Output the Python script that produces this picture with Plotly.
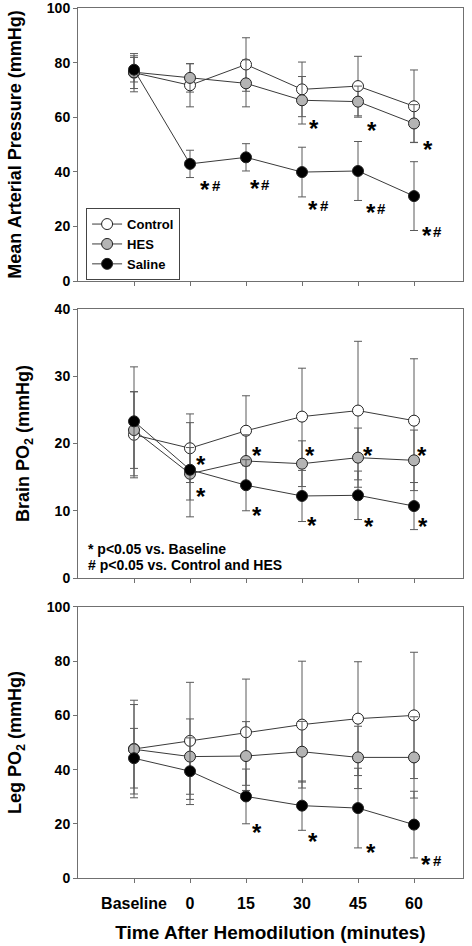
import plotly.graph_objects as go

time_labels = ["Baseline", "0", "15", "30", "45", "60"]
xpos = [0, 1, 2, 3, 4, 5]

# Mean arterial pressure (mmHg): mean and SD
map_control = [76.3, 71.7, 79.3, 70.2, 71.4, 64.0]
map_control_sd = [7.0, 7.9, 9.8, 10.0, 10.9, 13.3]
map_hes = [76.5, 74.4, 72.4, 66.2, 65.7, 57.7]
map_hes_sd = [6.0, 5.2, 8.6, 8.7, 5.7, 6.9]
map_saline = [77.4, 42.9, 45.3, 39.9, 40.3, 31.1]
map_saline_sd = [4.5, 5.0, 5.0, 9.1, 10.8, 12.6]

# Brain PO2 (mmHg)
brain_control = [21.3, 19.3, 21.9, 24.0, 24.9, 23.4]
brain_control_sd = [6.4, 5.1, 5.2, 7.2, 10.3, 9.2]
brain_hes = [22.0, 15.5, 17.4, 17.0, 17.9, 17.5]
brain_hes_sd = [5.7, 3.9, 3.9, 3.4, 4.4, 4.5]
brain_saline = [23.3, 16.1, 13.8, 12.2, 12.3, 10.7]
brain_saline_sd = [8.1, 7.0, 3.8, 3.8, 3.6, 3.5]

# Leg PO2 (mmHg)
leg_control = [47.6, 50.6, 53.8, 56.6, 58.8, 60.0]
leg_control_sd = [18.0, 21.6, 19.6, 23.4, 21.0, 23.3]
leg_hes = [47.5, 44.8, 45.0, 46.6, 44.5, 44.5]
leg_hes_sd = [16.5, 13.9, 12.7, 11.2, 11.5, 15.0]
leg_saline = [44.2, 39.4, 30.1, 26.7, 25.8, 19.7]
leg_saline_sd = [11.0, 12.3, 10.1, 9.1, 14.7, 12.3]

# significance marks: (x position, y value, text)
map_marks = [(1.27, 35.2, "*#"), (2.16, 35.8, "*#"), (3.2, 28.0, "*#"), (4.23, 27.0, "*#"),
             (5.23, 18.6, "*#"), (3.21, 57.7, "*"), (4.25, 56.9, "*"), (5.25, 49.9, "*")]
brain_marks = [(1.2, 17.6, "*"), (1.2, 12.9, "*"), (2.2, 19.0, "*"), (2.2, 10.0, "*"),
               (3.15, 19.0, "*"), (3.18, 8.6, "*"), (4.18, 19.0, "*"), (4.19, 8.4, "*"),
               (5.14, 19.0, "*"), (5.16, 8.4, "*")]
leg_marks = [(2.2, 18.5, "*"), (3.2, 15.4, "*"), (4.23, 11.4, "*"), (5.22, 6.8, "*#")]

FONT = "Liberation Sans, Arial, sans-serif"
LINE = "#3a3a3a"
ERR = "#5a5a5a"
AXC = "#707070"

fill = {"Control": "white", "HES": "#b4b4b4", "Saline": "black"}

fig = go.Figure()

panels = [
    ("x", "y", [(map_control, map_control_sd), (map_hes, map_hes_sd), (map_saline, map_saline_sd)], True),
    ("x2", "y2", [(brain_control, brain_control_sd), (brain_hes, brain_hes_sd), (brain_saline, brain_saline_sd)], False),
    ("x3", "y3", [(leg_control, leg_control_sd), (leg_hes, leg_hes_sd), (leg_saline, leg_saline_sd)], False),
]
names = ["Control", "HES", "Saline"]
for xax, yax, series, show in panels:
    for name, (vals, sds) in zip(names, series):
        fig.add_trace(go.Scatter(
            x=xpos, y=vals, name=name, mode="lines+markers",
            xaxis=xax, yaxis=yax, showlegend=show,
            line=dict(color=LINE, width=1),
            marker=dict(size=11, color=fill[name], line=dict(color="#222222", width=1)),
            error_y=dict(type="data", array=sds, visible=True, color=ERR, thickness=1, width=4),
        ))


def add_marks(marks, xref, yref):
    for x, y, t in marks:
        fig.add_annotation(x=x, y=y, xref=xref, yref=yref, text="*", showarrow=False,
                           xanchor="center", yanchor="middle", yshift=-5,
                           font=dict(family=FONT, size=24, color="black", weight="bold"))
        if "#" in t:
            fig.add_annotation(x=x, y=y, xref=xref, yref=yref, text="#", showarrow=False,
                               xanchor="center", yanchor="middle", xshift=11, yshift=-1,
                               font=dict(family=FONT, size=15, color="black", weight="bold"))


add_marks(map_marks, "x", "y")
add_marks(brain_marks, "x2", "y2")
add_marks(leg_marks, "x3", "y3")

nfont = dict(family=FONT, size=14, color="black", weight="bold")
fig.add_annotation(x=0.021, y=4.3, xref="x2 domain", yref="y2", text="* p<0.05 vs. Baseline",
                   showarrow=False, xanchor="left", yanchor="middle", font=nfont)
fig.add_annotation(x=0.021, y=1.9, xref="x2 domain", yref="y2", text="# p<0.05 vs. Control and HES",
                   showarrow=False, xanchor="left", yanchor="middle", font=nfont)

xcommon = dict(range=[-1, 5.875], tickvals=xpos, ticktext=time_labels, ticks="outside", ticklen=4,
               tickcolor=AXC, showline=True, linecolor=AXC, linewidth=1, mirror=True,
               showgrid=False, zeroline=False, automargin=False, ticklabelstandoff=7,
               tickfont=dict(family=FONT, size=16, color="black", weight="bold"))
ycommon = dict(ticks="outside", ticklen=4, tickcolor=AXC, showline=True, linecolor=AXC, linewidth=1,
               mirror=True, showgrid=False, zeroline=False, automargin=False,
               ticklabeloverflow="allow",
               tickfont=dict(family=FONT, size=14, color="black", weight="bold"))
ytfont = dict(family=FONT, size=18, color="black", weight="bold")
xtfont = dict(family=FONT, size=19, color="black", weight="bold")

fig.update_layout(
    width=472, height=946,
    margin=dict(l=78, r=9, t=8, b=68),
    paper_bgcolor="white", plot_bgcolor="white",
    xaxis=dict(**xcommon, anchor="y", showticklabels=False),
    xaxis2=dict(**xcommon, anchor="y2", showticklabels=False),
    xaxis3=dict(**xcommon, anchor="y3",
                title=dict(text="Time After Hemodilution (minutes)", font=xtfont, standoff=14)),
    yaxis=dict(**ycommon, domain=[0.6862, 1.0], range=[0, 100], tickvals=[0, 20, 40, 60, 80, 100],
               anchor="x", title=dict(text="Mean Arterial Pressure (mmHg)", font=ytfont, standoff=20)),
    yaxis2=dict(**ycommon, domain=[0.3448, 0.6540], range=[0, 40], tickvals=[0, 10, 20, 30, 40],
                anchor="x2", title=dict(text="Brain PO<sub>2</sub> (mmHg)", font=ytfont, standoff=20)),
    yaxis3=dict(**ycommon, domain=[0, 0.3115], range=[0, 100], tickvals=[0, 20, 40, 60, 80, 100],
                anchor="x3", title=dict(text="Leg PO<sub>2</sub> (mmHg)", font=ytfont, standoff=20)),
    legend=dict(x=0.021, y=0.770, xref="paper", yref="paper", xanchor="left", yanchor="top",
                bordercolor="#444444", borderwidth=1, bgcolor="white",
                font=dict(family=FONT, size=13, color="black", weight="bold"),
                tracegroupgap=0, itemwidth=30),
    showlegend=True,
)

fig.write_html("out.html", config={"displayModeBar": False},
               post_script="document.body.style.margin='0px';")
